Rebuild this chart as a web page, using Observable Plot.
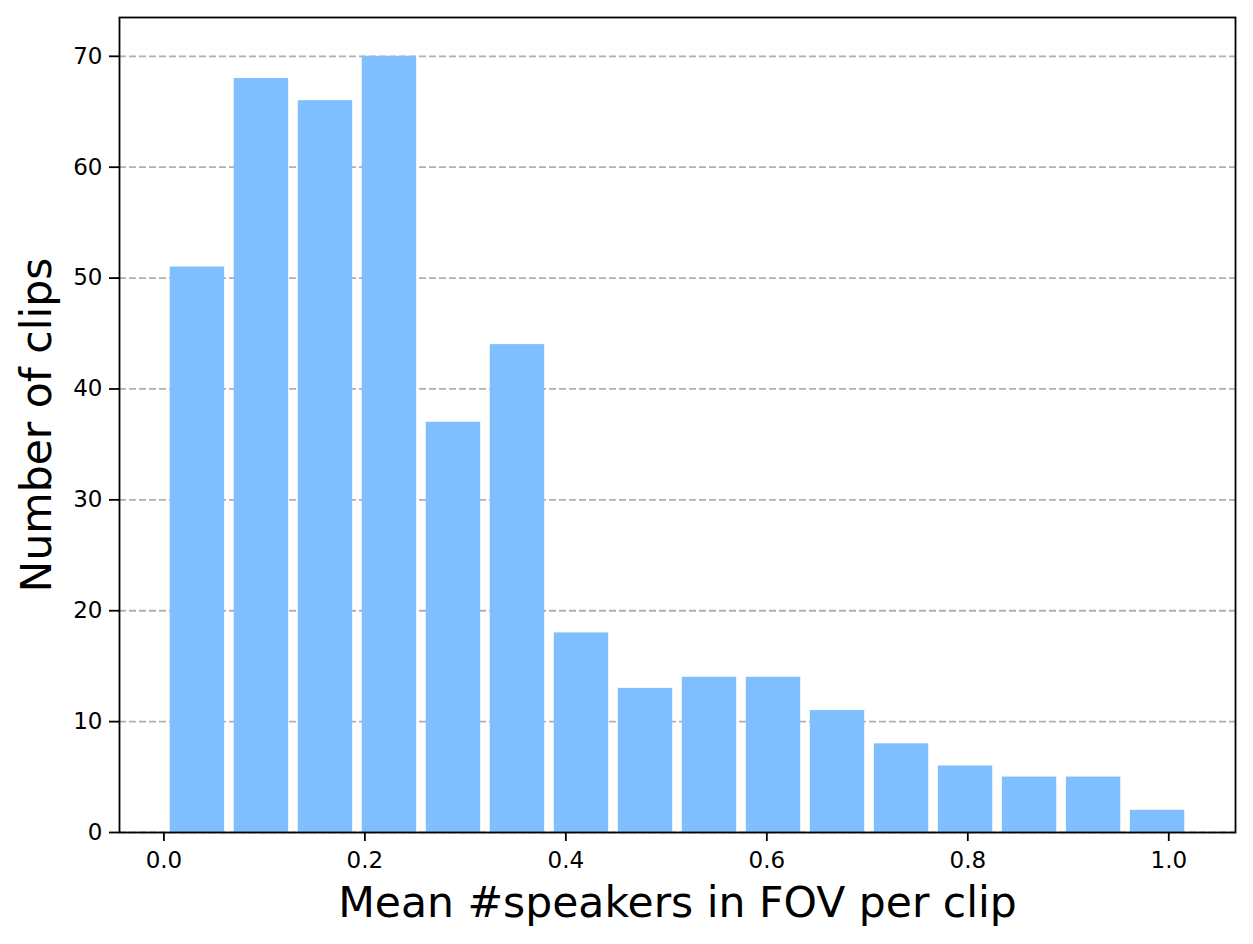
<!DOCTYPE html>
<html>
<head>
<meta charset="utf-8">
<script src="https://cdn.jsdelivr.net/npm/d3@7"></script>
<script src="https://cdn.jsdelivr.net/npm/@observablehq/plot@0.6"></script>
<style>
  html, body { margin: 0; padding: 0; background: #fff; }
  #chart svg { display: block; }
</style>
</head>
<body>
<div id="chart"></div>
<script>
// Histogram counts per bin
const counts = [51, 68, 66, 70, 37, 44, 18, 13, 14, 14, 11, 8, 6, 5, 5, 2];
// Bin range of the histogram (16 equal bins)
const binMin = 0.0015;
const binMax = 1.0207;
// Tick values
const xTicks = [0.0, 0.2, 0.4, 0.6, 0.8, 1.0];
const yTicks = [0, 10, 20, 30, 40, 50, 60, 70];
const xLabel = "Mean #speakers in FOV per clip";
const yLabel = "Number of clips";

const nBins = counts.length;
const binW = (binMax - binMin) / nBins;
const rwidth = 0.85;
const bars = counts.map((c, i) => {
  const lo = binMin + i * binW;
  return {
    x1: lo + binW * (1 - rwidth) / 2,
    x2: lo + binW * (1 + rwidth) / 2,
    count: c
  };
});
const dataMin = bars[0].x1, dataMax = bars[bars.length - 1].x2;
const pad = (dataMax - dataMin) * 0.05;
const yMax = d3.max(counts) * 1.05;

const font = "DejaVu Sans, sans-serif";

const chart = Plot.plot({
  width: 1253,
  height: 944,
  marginLeft: 119,
  marginRight: 18,
  marginTop: 17,
  marginBottom: 112,
  style: { fontFamily: font, background: "#fff", color: "#000" },
  x: { domain: [dataMin - pad, dataMax + pad] },
  y: { domain: [0, yMax] },
  marks: [
    Plot.gridY(yTicks, { stroke: "#b0b0b0", strokeOpacity: 1, strokeWidth: 1.8, strokeDasharray: "7,3" }),
    Plot.rectY(bars, { x1: "x1", x2: "x2", y1: 0, y2: "count", fill: "#80bfff" }),
    Plot.frame({ stroke: "#000", strokeWidth: 1.8 }),
    Plot.axisX(xTicks, {
      tickSize: 9, tickPadding: 10, strokeWidth: 1.8,
      tickFormat: d3.format(".1f"), fontSize: 23, label: null
    }),
    Plot.axisY(yTicks, {
      tickSize: 10, tickPadding: 7, strokeWidth: 1.8,
      tickFormat: d3.format("d"), fontSize: 23, label: null
    }),
    Plot.text([xLabel], {
      text: d => d, frameAnchor: "bottom", lineAnchor: "bottom",
      textAnchor: "middle", dy: 84, fontSize: 42.5, fill: "#000"
    }),
    Plot.text([yLabel], {
      text: d => d, frameAnchor: "left", rotate: -90,
      textAnchor: "middle", lineAnchor: "middle",
      dx: -82, fontSize: 42.5, fill: "#000"
    })
  ]
});
document.getElementById("chart").appendChild(chart);
</script>
</body>
</html>
